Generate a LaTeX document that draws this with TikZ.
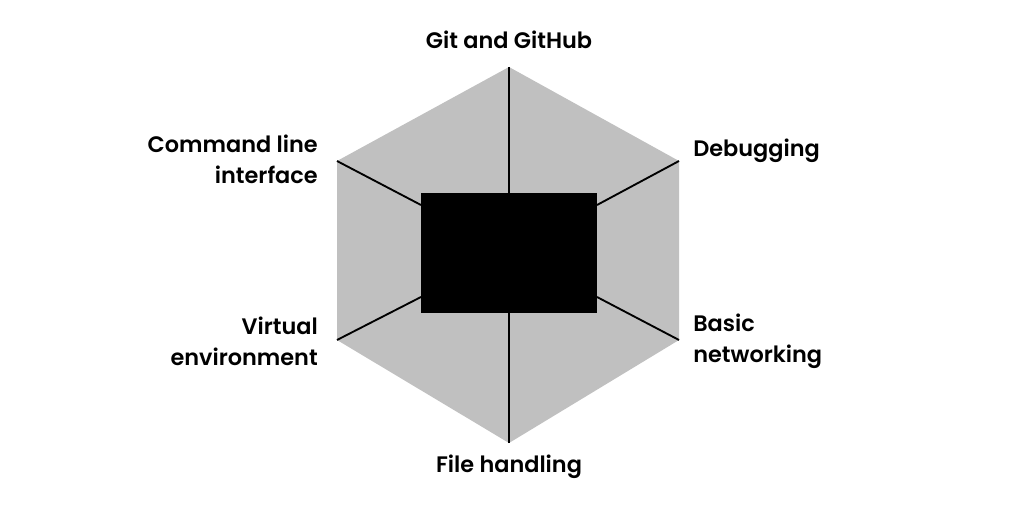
\documentclass[tikz,border=0pt]{standalone}
\usepackage{fontspec}
\setmainfont{Poppins}[UprightFont=* SemiBold]
\definecolor{hexfill}{HTML}{C0C0C0}
\begin{document}
\begin{tikzpicture}[x=0.75pt,y=-0.75pt,
  spoke/.style={draw=black,line width=1.4pt},
  lbl/.style={font=\fontsize{16.8}{23.3}\selectfont,text=black,inner sep=0pt},
  lblL/.style={lbl,anchor=east,align=right},
  lblR/.style={lbl,anchor=west,align=left}]
\useasboundingbox (0,0) rectangle (1024,516);
\fill[white] (0,0) rectangle (1024,516);
% hexagon vertices
\coordinate (T) at (509,67);
\coordinate (UR) at (679,161);
\coordinate (LR) at (679,340);
\coordinate (B) at (509,443);
\coordinate (LL) at (337,340);
\coordinate (UL) at (337,161);
\fill[hexfill] (T) -- (UR) -- (LR) -- (B) -- (LL) -- (UL) -- cycle;
% center box
\node[fill=black,minimum width=132pt,minimum height=90pt,inner sep=0pt,anchor=north west] (core) at (421,193) {};
\coordinate (cT) at (509,193);
\coordinate (cB) at (509,313);
\coordinate (cUL) at (421,205);
\coordinate (cUR) at (597,205);
\coordinate (cLL) at (421,297);
\coordinate (cLR) at (597,297);
\draw[spoke] (T) -- (cT);
\draw[spoke] (B) -- (cB);
\draw[spoke] (UL) -- (cUL);
\draw[spoke] (UR) -- (cUR);
\draw[spoke] (LL) -- (cLL);
\draw[spoke] (LR) -- (cLR);
% labels
\node[lbl] (git) at (509,40) {Git and GitHub};
\node[lblL] (cli) at (318,159) {Command line\\interface};
\node[lblR] (dbg) at (693,151) {Debugging};
\node[lblL] (venv) at (318,341) {Virtual\\environment};
\node[lblR] (net) at (693,341) {Basic\\networking};
\node[lbl] (file) at (509,467) {File handling};
\end{tikzpicture}
\end{document}
